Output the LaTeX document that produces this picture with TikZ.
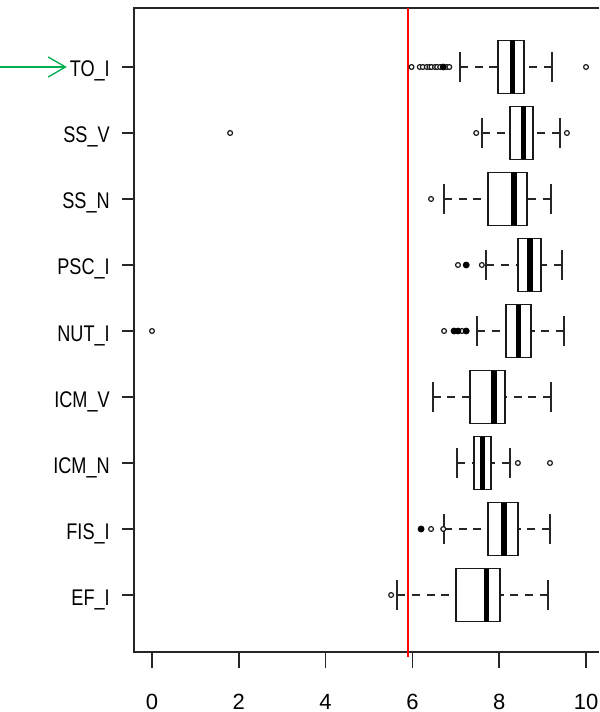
\documentclass[tikz,border=0pt]{standalone}
\usepackage{fontspec}
\setmainfont{Liberation Sans}
\newfontfamily\labfont[FakeStretch=0.8]{Liberation Sans}
\usetikzlibrary{arrows.meta}
\definecolor{arrowgreen}{RGB}{0,176,80}

\begin{document}
\begin{tikzpicture}[x=0.75pt,y=-0.75pt]
  \tikzstyle{frame}=[draw=black!85,line width=1.2pt]
  \tikzstyle{hinge}=[draw=black!90,line width=1.2pt,fill=white]
  \tikzstyle{median}=[draw=black,line width=3.8pt]
  \tikzstyle{whisk}=[draw=black!85,line width=1.2pt,dash pattern=on 6pt off 5pt]
  \tikzstyle{outl}=[draw=black!90,line width=0.9pt,fill=white]
  \tikzstyle{outlf}=[draw=black,line width=0.7pt,fill=black]
  \tikzstyle{cutoff}=[draw=red,line width=1.5pt]
  \tikzstyle{ylab}=[anchor=base east,inner sep=0pt,font=\labfont\fontsize{17}{17}\selectfont]
  \tikzstyle{xlab}=[anchor=base,inner sep=0pt,font=\fontsize{16.5}{16.5}\selectfont]
  \useasboundingbox (0,0) rectangle (599,712);

  % plot frame, open on the right
  \draw[frame] (599,8) -- (134,8) -- (134,652) -- (599,652);

  % variable names
  \foreach \yy/\lab [count=\i] in {67/TO\_I,133/SS\_V,199/SS\_N,265/PSC\_I,331/NUT\_I,
                                   397/ICM\_V,463/ICM\_N,529/FIS\_I,595/EF\_I} {
    \draw[frame] (122,\yy) -- (134,\yy);
    \node[ylab] (ylab\i) at (110,\yy+10) {\lab};
  }

  % green marker
  \coordinate (arrowtail) at (0,67);
  \draw[arrowgreen,line width=1pt,-{Straight Barb[length=13pt,width=15pt]},shorten >=2pt]
    (arrowtail) -- (arrowtail -| ylab1.west);

  \begin{scope}[shift={(152,0)},x=32.55pt]
    % x axis
    \foreach \v in {0,2,...,10} {
      \draw[frame] (\v,652) -- (\v,668);
      \node[xlab] (xlab\v) at (\v,709) {\v};
    }
    % cut-off
    \draw[cutoff] (5.9,8) -- (5.9,657);
    % boxes
    \foreach \yy/\lo/\qa/\md/\qc/\hi in {67/7.10/7.97/8.31/8.57/9.22,
                                         133/7.60/8.25/8.57/8.78/9.40,
                                         199/6.73/7.74/8.34/8.64/9.19,
                                         265/7.70/8.43/8.71/8.96/9.45,
                                         331/7.49/8.16/8.44/8.73/9.49,
                                         397/6.47/7.33/7.88/8.13/9.19,
                                         463/7.03/7.42/7.62/7.81/8.25,
                                         529/6.73/7.74/8.11/8.43/9.17,
                                         595/5.65/7.00/7.71/8.02/9.12} {
      \draw[whisk] (\lo,\yy) -- (\qa,\yy);
      \draw[whisk] (\hi,\yy) -- (\qc,\yy);
      \draw[frame] (\lo,\yy-15) -- (\lo,\yy+15);
      \draw[frame] (\hi,\yy-15) -- (\hi,\yy+15);
      \draw[hinge] (\qa,\yy-26.5) rectangle (\qc,\yy+26.5);
      \draw[median] (\md,\yy-26.5) -- (\md,\yy+26.5);
    }
    % outliers
    \foreach \p/\yy in {5.98/67,6.17/67,6.24/67,6.33/67,6.39/67,6.44/67,6.52/67,6.57/67,
                        6.64/67,6.79/67,6.85/67,10.0/67,
                        1.80/133,7.47/133,9.56/133,
                        6.43/199,
                        7.05/265,7.60/265,
                        0/331,6.73/331,7.14/331,
                        8.43/463,9.17/463,
                        6.43/529,6.71/529,
                        5.51/595}
      \draw[outl] (\p,\yy) circle[radius=1.8pt];
    \foreach \p/\yy in {6.71/67,7.24/265,6.96/331,7.05/331,7.24/331,6.20/529}
      \draw[outlf] (\p,\yy) circle[radius=2.2pt];
  \end{scope}
\end{tikzpicture}
\end{document}
